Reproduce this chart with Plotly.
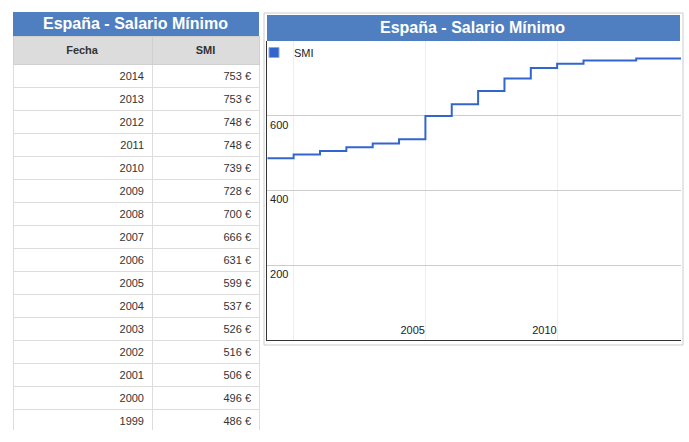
import plotly.graph_objects as go

W, H = 689, 442

years = [2014, 2013, 2012, 2011, 2010, 2009, 2008, 2007, 2006, 2005, 2004, 2003, 2002, 2001, 2000, 1999]
smi = [753, 753, 748, 748, 739, 728, 700, 666, 631, 599, 537, 526, 516, 506, 496, 486]
series_name = "SMI"
title = "España - Salario Mínimo"
header = ["Fecha", "SMI"]
y_ticks = [200, 400, 600]
x_ticks = [2000, 2005, 2010]
x_ticktext = ["", "2005", "2010"]
X_MIN, X_MAX = 1999, 2014.7
Y_MIN, Y_MAX = 0, 800

FONT = "Arial, Liberation Sans, sans-serif"
BAR = "#4f7fc0"
LINE = "#3366cc"


def px(x):
    return x / W


def py(y):
    return 1 - y / H


# chronological order for the chart
order = sorted(range(len(years)), key=lambda i: years[i])
xs = [years[i] for i in order]
ys = [smi[i] for i in order]
# last value held to the end of the axis (stepped timeline)
xs_plot = xs + [X_MAX]
ys_plot = ys + [ys[-1]]

fig = go.Figure()

fig.add_trace(go.Table(
    domain=dict(x=[px(13), px(259)], y=[py(431), py(36)]),
    columnwidth=[139, 107],
    header=dict(
        values=["<b>%s</b>" % h for h in header],
        fill_color="#dcdcdc",
        line_color="#d0d0d0",
        align="center",
        font=dict(family=FONT, size=11, color="#333333"),
        height=26,
    ),
    cells=dict(
        values=[[str(y) for y in years], ["%d €" % v for v in smi]],
        fill_color="white",
        line_color="#dddddd",
        align="right",
        font=dict(family=FONT, size=11, color="#333333"),
        height=23,
    ),
))

fig.add_trace(go.Scatter(
    x=xs_plot, y=ys_plot, mode="lines", line_shape="hv",
    line=dict(color=LINE, width=2), showlegend=False, name=series_name,
    hoverinfo="skip",
))
fig.add_trace(go.Scatter(
    x=[None], y=[None], mode="markers", name=series_name,
    marker=dict(symbol="square", size=10, color=LINE,
                line=dict(color="#8fa9e0", width=1)),
    showlegend=True,
))

shapes = [
    dict(type="rect", xref="paper", yref="paper", x0=px(264), x1=px(683), y0=py(345), y1=py(13),
         line=dict(color="#cccccc", width=1), fillcolor="white", layer="below"),
    dict(type="rect", xref="paper", yref="paper", x0=px(13), x1=px(259), y0=py(37), y1=py(12),
         line=dict(width=0), fillcolor=BAR, layer="below"),
    dict(type="rect", xref="paper", yref="paper", x0=px(267), x1=px(680), y0=py(41), y1=py(15),
         line=dict(width=0), fillcolor=BAR, layer="below"),
]

annotations = [
    dict(text="<b>%s</b>" % title, xref="paper", yref="paper", x=px(135), y=py(23.5),
         showarrow=False, font=dict(family=FONT, size=16, color="white"),
         xanchor="center", yanchor="middle"),
    dict(text="<b>%s</b>" % title, xref="paper", yref="paper", x=px(472.5), y=py(27),
         showarrow=False, font=dict(family=FONT, size=16, color="white"),
         xanchor="center", yanchor="middle"),
]

fig.update_layout(
    width=W, height=H, autosize=False,
    margin=dict(l=0, r=0, t=0, b=0),
    paper_bgcolor="white", plot_bgcolor="white",
    font=dict(family=FONT, size=11, color="#222222"),
    shapes=shapes, annotations=annotations,
    legend=dict(x=px(254), y=py(38), xanchor="left", yanchor="top",
                bgcolor="rgba(0,0,0,0)", font=dict(family=FONT, size=11, color="#222222"),
                itemwidth=30, tracegroupgap=0),
    xaxis=dict(domain=[px(267.3), px(681)], range=[X_MIN, X_MAX],
               tickvals=x_ticks, ticktext=x_ticktext, showgrid=True, gridcolor="#eeeeee",
               showline=True, linecolor="#333333", linewidth=1, zeroline=False,
               ticks="", ticklabelposition="inside left",
               tickfont=dict(family=FONT, size=11, color="#222222")),
    yaxis=dict(domain=[py(340), py(41)], range=[Y_MIN, Y_MAX],
               tickvals=y_ticks, showgrid=True, gridcolor="#cccccc",
               showline=True, linecolor="#333333", linewidth=1, zeroline=False,
               ticks="", ticklabelposition="inside", ticklabelshift=9, ticklabelstandoff=2,
               tickfont=dict(family=FONT, size=11, color="#222222")),
)

fig.write_html(
    "out.html",
    config={"displayModeBar": False},
    post_script="document.body.style.margin='0';document.body.style.padding='0';document.body.style.overflow='hidden';",
)
